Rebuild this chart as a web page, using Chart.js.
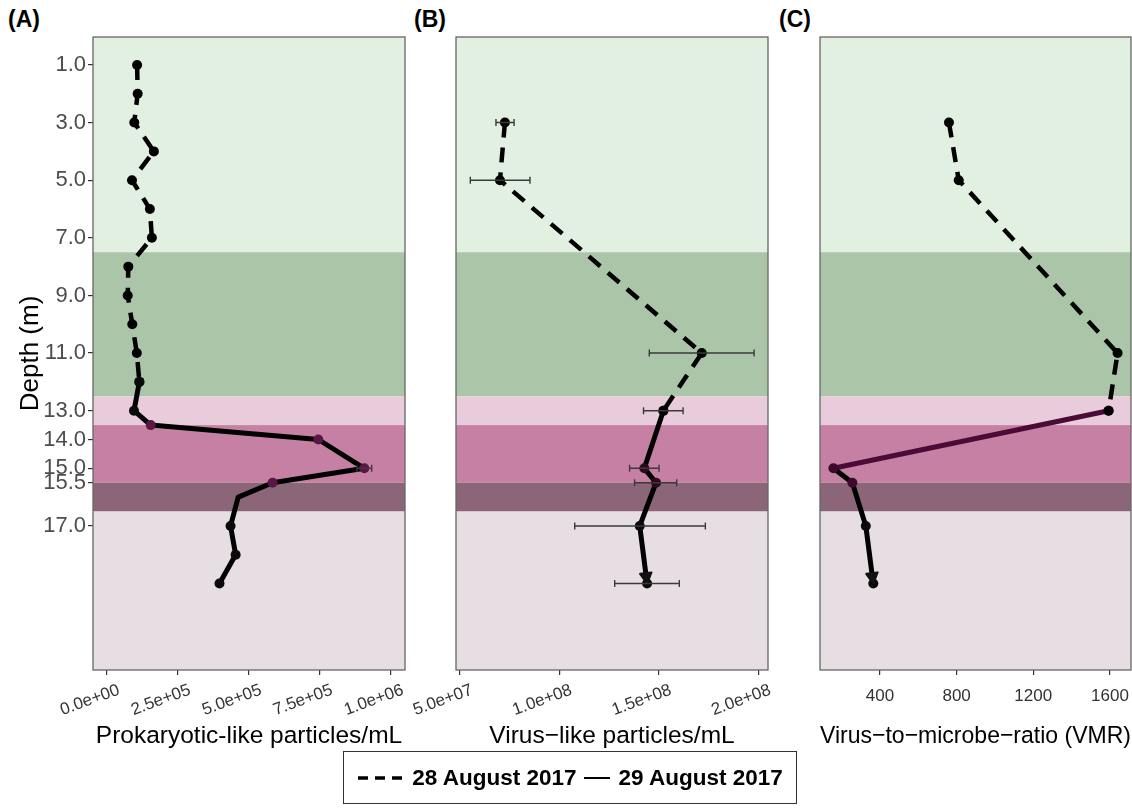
<!DOCTYPE html>
<html>
<head>
<meta charset="utf-8">
<script src="https://cdn.jsdelivr.net/npm/chart.js@4.4.1/dist/chart.umd.min.js"></script>
<style>
html,body{margin:0;padding:0;background:#fff;width:1132px;height:810px;overflow:hidden;font-family:'Liberation Sans',Arial,sans-serif;}
body{position:relative;}
canvas{position:absolute;top:0;}
.plab{position:absolute;font-weight:bold;font-size:23px;color:#000;}
#legend{position:absolute;left:343px;top:751px;width:454px;height:53px;border:1.5px solid #333;box-sizing:border-box;display:flex;align-items:center;justify-content:center;font-weight:bold;font-size:22.5px;color:#000;}
</style>
</head>
<body>
<div class="plab" style="left:8px;top:6px">(A)</div>
<div class="plab" style="left:414px;top:6px">(B)</div>
<div class="plab" style="left:779px;top:6px">(C)</div>
<canvas id="cA" width="420" height="760" style="left:0px;width:420px;height:760px"></canvas>
<canvas id="cB" width="402" height="760" style="left:376px;width:402px;height:760px"></canvas>
<canvas id="cC" width="345" height="760" style="left:800px;width:345px;height:760px"></canvas>
<div id="legend">
  <svg width="50" height="10"><line x1="1" y1="5" x2="49" y2="5" stroke="#000" stroke-width="3.5" stroke-dasharray="10,7"/></svg>
  <span style="margin-left:5px">28 August 2017</span>
  <svg width="28" height="10" style="margin-left:7px"><line x1="0" y1="5" x2="26" y2="5" stroke="#000" stroke-width="2"/></svg>
  <span style="margin-left:7px">29 August 2017</span>
</div>
<script>
// ---------------- DATA ----------------
// depth scale (m)
const yTicks = [1, 3, 5, 7, 9, 11, 13, 14, 15, 15.5, 17];

// water-column zones (depth ranges)
const bandTop    = [0,   7.5,  12.5, 13.5, 15.5, 16.5];
const bandBottom = [7.5, 12.5, 13.5, 15.5, 16.5, 22];
const bandColors = ['#e2f0e1', '#aac5a7', '#e8ccdb', '#c580a3', '#8b6678', '#e6dee2'];

// (A) Prokaryotic-like particles/mL
const depthA28 = [1, 2, 3, 4, 5, 6, 7, 8, 9, 10, 11, 12];
const prokA28  = [1.06e5, 1.08e5, 0.96e5, 1.65e5, 0.88e5, 1.51e5, 1.58e5, 0.75e5, 0.73e5, 0.89e5, 1.05e5, 1.14e5];
const depthA29 = [12, 13, 13.5, 14, 15, 15.5, 16, 17, 18, 19];
const prokA29  = [1.14e5, 0.95e5, 1.54e5, 7.44e5, 9.06e5, 5.83e5, 4.62e5, 4.35e5, 4.53e5, 3.96e5];
const noMarkerDepthsA = [16];
const errDepthA = [15];
const errLoA = [8.80e5];
const errHiA = [9.32e5];
const xTicksA = [0, 2.5e5, 5e5, 7.5e5, 1e6];
const xTickLabelsA = ['0.0e+00', '2.5e+05', '5.0e+05', '7.5e+05', '1.0e+06'];

// (B) Virus-like particles/mL
const depthB28 = [3, 5, 11, 13];
const vlpB28   = [72.6e6, 70.1e6, 171.6e6, 152.3e6];
const depthB29 = [13, 15, 15.5, 17, 19];
const vlpB29   = [152.3e6, 142.7e6, 148.6e6, 140.4e6, 144.1e6];
const errDepthB = [3, 5, 11, 13, 15, 15.5, 17, 19];
const errLoB = [68.1e6, 55.2e6, 145.2e6, 142.3e6, 135.3e6, 137.8e6, 107.7e6, 127.8e6];
const errHiB = [77.2e6, 85.2e6, 197.9e6, 162.2e6, 150.1e6, 159.0e6, 173.4e6, 160.3e6];
const xTicksB = [5e7, 1e8, 1.5e8, 2e8];
const xTickLabelsB = ['5.0e+07', '1.0e+08', '1.5e+08', '2.0e+08'];

// (C) Virus-to-microbe ratio
const depthC28 = [3, 5, 11, 13];
const vmrC28   = [760, 811, 1640, 1593];
const depthC29 = [13, 15, 15.5, 17, 19];
const vmrC29   = [1593, 157, 256, 326, 365];
const xTicksC = [400, 800, 1200, 1600];
const xTickLabelsC = ['400', '800', '1200', '1600'];

// ---------------- RENDERING ----------------
const FONT = "'Liberation Sans', Arial, sans-serif";
Chart.defaults.font.family = FONT;

function pts(vals, depths) { return vals.map((v, i) => ({x: v, y: depths[i]})); }

const panelPlugin = {
  id: 'panel',
  beforeDatasetsDraw(chart) {
    const {ctx, chartArea: a, scales: {y}} = chart;
    ctx.save();
    ctx.beginPath(); ctx.rect(a.left, a.top, a.right - a.left, a.bottom - a.top); ctx.clip();
    bandTop.forEach((t, i) => {
      const y0 = y.getPixelForValue(t), y1 = y.getPixelForValue(bandBottom[i]);
      ctx.fillStyle = bandColors[i];
      ctx.fillRect(a.left, Math.min(y0, y1), a.right - a.left, Math.abs(y1 - y0));
    });
    ctx.restore();
  },
  afterDatasetsDraw(chart, args, opts) {
    const {ctx, scales: {x, y}} = chart;
    ctx.save();
    if (opts.arrowDataset != null) {
      const meta = chart.getDatasetMeta(opts.arrowDataset);
      const n = meta.data.length;
      const p = meta.data[n - 1], q = meta.data[n - 2];
      const ang = Math.atan2(p.y - q.y, p.x - q.x);
      const L = 12, W = 0.5;
      ctx.fillStyle = '#111';
      ctx.strokeStyle = '#111';
      ctx.lineWidth = 2;
      ctx.lineJoin = 'round';
      ctx.beginPath();
      ctx.moveTo(p.x, p.y);
      ctx.lineTo(p.x - L * Math.cos(ang - W), p.y - L * Math.sin(ang - W));
      ctx.lineTo(p.x - L * Math.cos(ang + W), p.y - L * Math.sin(ang + W));
      ctx.closePath();
      ctx.fill(); ctx.stroke();
    }
    if (opts.err) {
      const e = opts.err;
      ctx.strokeStyle = '#3a3a3a';
      ctx.lineWidth = 1.4;
      e.depth.forEach((d, i) => {
        const yp = y.getPixelForValue(d);
        const x0 = x.getPixelForValue(e.lo[i]), x1 = x.getPixelForValue(e.hi[i]);
        ctx.beginPath();
        ctx.moveTo(x0, yp); ctx.lineTo(x1, yp);
        ctx.moveTo(x0, yp - 3.5); ctx.lineTo(x0, yp + 3.5);
        ctx.moveTo(x1, yp - 3.5); ctx.lineTo(x1, yp + 3.5);
        ctx.stroke();
      });
    }
    ctx.restore();
  },
  afterDraw(chart) {
    const {ctx, chartArea: a} = chart;
    ctx.save();
    ctx.strokeStyle = '#666';
    ctx.lineWidth = 1.3;
    ctx.strokeRect(a.left, a.top, a.right - a.left, a.bottom - a.top);
    ctx.restore();
  }
};

function xScale(min, max, ticksV, labels, title, rot) {
  return {
    type: 'linear', min, max,
    afterBuildTicks: s => { s.ticks = ticksV.map(v => ({value: v})); },
    afterFit: s => { s.height = 85; },
    grid: {display: true, drawOnChartArea: false, drawTicks: true, tickLength: 5, color: '#333', lineWidth: 1.2},
    border: {display: false},
    ticks: {
      autoSkip: false, minRotation: rot, maxRotation: rot, padding: rot ? 5 : 11,
      labelOffset: rot ? 12 : 0,
      color: '#333', font: {size: 17, family: FONT},
      callback: (v, i) => labels[i]
    },
    title: {display: true, text: title, color: '#000', font: {size: 24.5, family: FONT}, padding: {top: 0, bottom: 4}}
  };
}

function yScale(show) {
  const s = {
    type: 'linear', reverse: true, min: 0.03, max: 22,
    display: show,
    afterBuildTicks: sc => { sc.ticks = yTicks.map(v => ({value: v})); },
    grid: {display: true, drawOnChartArea: false, drawTicks: true, tickLength: 5, color: '#333', lineWidth: 1.2},
    border: {display: false},
    ticks: {autoSkip: false, padding: 2, color: '#4d4d4d', font: {size: 22, family: FONT}, callback: v => v.toFixed(1)},
    title: {display: true, text: 'Depth (m)', color: '#000', font: {size: 26, family: FONT}, padding: {top: 3, bottom: 0}}
  };
  if (show) s.afterFit = sc => { sc.width = 81; };
  return s;
}

function ds(data, dashed, ptColor, extra) {
  return Object.assign({
    data, showLine: true, borderColor: '#000', borderWidth: dashed ? 4.5 : 5,
    borderDash: dashed ? [15, 10] : [], borderCapStyle: 'butt', borderJoinStyle: 'round',
    pointRadius: 5, pointHoverRadius: 5, pointBorderWidth: 0,
    pointBackgroundColor: ptColor, tension: 0
  }, extra || {});
}

const common = (padding, scales, panelOpts) => ({
  responsive: false, animation: false, devicePixelRatio: 1,
  layout: {padding},
  scales,
  plugins: {legend: {display: false}, tooltip: {enabled: false}, panel: panelOpts}
});

// Panel A
new Chart(document.getElementById('cA'), {
  type: 'scatter',
  data: {datasets: [
    ds(pts(prokA29, depthA29), false,
      c => (c.raw && c.raw.y >= 13.5 && c.raw.y <= 15.5) ? '#5a1745' : '#0a0a0a',
      {pointRadius: c => (c.raw && noMarkerDepthsA.includes(c.raw.y)) ? 0 : 5}),
    ds(pts(prokA28, depthA28), true, '#000')
  ]},
  options: common({top: 37, left: 12, right: 15, bottom: 5},
    {x: xScale(-4.93e4, 1.0493e6, xTicksA, xTickLabelsA, 'Prokaryotic-like particles/mL', 20), y: yScale(true)},
    {err: {depth: errDepthA, lo: errLoA, hi: errHiA}}),
  plugins: [panelPlugin]
});

// Panel B
new Chart(document.getElementById('cB'), {
  type: 'scatter',
  data: {datasets: [
    ds(pts(vlpB28, depthB28), true, '#000'),
    ds(pts(vlpB29, depthB29), false, c => (c.raw && c.raw.y >= 13 && c.raw.y <= 15.5) ? '#2a0a1c' : '#0a0a0a')
  ]},
  options: common({top: 37, left: 80, right: 10, bottom: 5},
    {x: xScale(48e6, 204.9e6, xTicksB, xTickLabelsB, 'Virus\u2212like particles/mL', 20), y: yScale(false)},
    {err: {depth: errDepthB, lo: errLoB, hi: errHiB}, arrowDataset: 1}),
  plugins: [panelPlugin]
});

// Panel C
new Chart(document.getElementById('cC'), {
  type: 'scatter',
  data: {datasets: [
    ds(pts(vmrC28, depthC28), true, '#000'),
    ds(pts(vmrC29, depthC29), false, c => (c.raw && c.raw.y >= 13 && c.raw.y <= 15.5) ? '#3d0a2c' : '#0a0a0a',
      {segment: {borderColor: s => (s.p0.parsed.y >= 13 && s.p0.parsed.y < 15) ? '#4a0c36' : undefined}})
  ]},
  options: common({top: 37, left: 20, right: 14, bottom: 5},
    {x: xScale(87, 1710, xTicksC, xTickLabelsC, 'Virus\u2212to\u2212microbe\u2212ratio (VMR)', 0), y: yScale(false)},
    {arrowDataset: 1}),
  plugins: [panelPlugin]
});
</script>
</body>
</html>
